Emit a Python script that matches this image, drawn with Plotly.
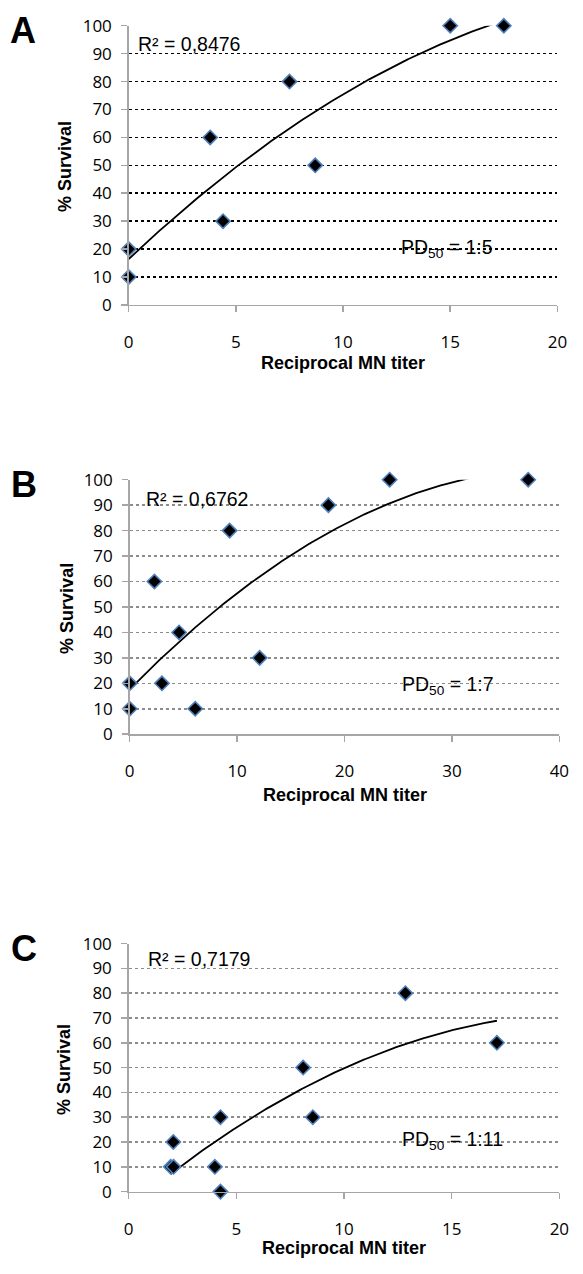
import numpy as np
import plotly.graph_objects as go

# ---------------- data ----------------
a_titer = [0, 0, 3.8, 4.4, 7.5, 8.7, 15.0, 17.5]
a_surv = [20, 10, 60, 30, 80, 50, 100, 100]

b_titer = [0, 0, 2.3, 3.0, 4.6, 6.1, 9.3, 12.1, 18.5, 24.2, 37.1]
b_surv = [20, 10, 60, 20, 40, 10, 80, 30, 90, 100, 100]

c_titer = [1.95, 2.08, 2.07, 4.0, 4.26, 4.26, 8.1, 8.55, 12.85, 17.1]
c_surv = [10, 10, 20, 10, 30, 0, 50, 30, 80, 60]

panel_letters = ["A", "B", "C"]
r2_labels = ["R² = 0,8476", "R² = 0,6762", "R² = 0,7179"]
pd50_labels = ["1:5", "1:7", "1:11"]
x_max = [20, 40, 20]
x_step = [5, 10, 5]
y_tick_vals = list(range(0, 101, 10))
x_title = "Reciprocal MN titer"
y_title = "% Survival"

# ---------------- layout geometry (pixels) ----------------
W, H = 583, 1274
panels = [
    dict(x=a_titer, y=a_surv, xl=127, xr=567, yt=14.0, yb=298.3, grid="#000000",
         letter=(18, 19), r2=(134, 32.5), pd=(404, 241), xt=357, yt_title=(61.5, 157)),
    dict(x=b_titer, y=b_surv, xl=128, xr=569, yt=476.3, yb=735.5, grid="#8c8c8c",
         letter=(19, 481), r2=(143, 496), pd=(405, 686), xt=797, yt_title=(63.5, 607)),
    dict(x=c_titer, y=c_surv, xl=127, xr=569, yt=948.7, yb=1201.3, grid="#8c8c8c",
         letter=(19, 954), r2=(145, 964), pd=(405, 1149), xt=1259, yt_title=(60, 1077)),
]


def px(xp):
    return xp / W


def py(yp):
    return 1 - yp / H


fig = go.Figure()
annotations = []
axis_col = "#a6a6a6"
tick_font = dict(family="Open Sans", size=17, color="#000000")

for i, p in enumerate(panels):
    n = "" if i == 0 else str(i + 1)
    xa, ya = "x" + n, "y" + n
    xs = np.array(p["x"], dtype=float)
    ys = np.array(p["y"], dtype=float)

    # polynomial (order 2) trendline, as in the source spreadsheet
    coef = np.polyfit(xs, ys, 2)
    tx = np.linspace(xs.min(), xs.max(), 300)
    ty = np.polyval(coef, tx)
    fig.add_trace(go.Scatter(x=tx, y=ty, mode="lines", xaxis=xa, yaxis=ya,
                             line=dict(color="#000000", width=1.8),
                             hoverinfo="skip", showlegend=False))
    fig.add_trace(go.Scatter(x=xs, y=ys, mode="markers", xaxis=xa, yaxis=ya,
                             cliponaxis=False, showlegend=False,
                             marker=dict(symbol="diamond", size=11, color="#000000",
                                         line=dict(color="#4f81bd", width=1.6))))

    fig.update_layout(**{
        ("xaxis" + n): dict(domain=[px(p["xl"]), px(p["xr"])], anchor=ya,
                            range=[0, x_max[i]], tickvals=list(range(0, x_max[i] + 1, x_step[i])),
                            showgrid=False, zeroline=False, showline=True,
                            linecolor=axis_col, linewidth=1.5, ticks="outside",
                            ticklen=6, tickwidth=1.5, tickcolor=axis_col,
                            tickfont=tick_font, ticklabelstandoff=15, fixedrange=True),
        ("yaxis" + n): dict(domain=[py(p["yb"]), py(p["yt"])], anchor=xa,
                            range=[0, 100], tickvals=y_tick_vals,
                            showgrid=True, gridcolor=p["grid"], griddash="dot", gridwidth=1.5,
                            zeroline=False, showline=True, linecolor=axis_col, linewidth=1.5,
                            ticks="outside", ticklen=6, tickwidth=1.5, tickcolor=axis_col,
                            tickfont=tick_font, ticklabelstandoff=6, fixedrange=True),
    })

    annotations += [
        dict(text="<b>" + panel_letters[i] + "</b>", x=px(p["letter"][0]), y=py(p["letter"][1]),
             xref="paper", yref="paper", xanchor="center", yanchor="middle", showarrow=False,
             font=dict(family="Liberation Sans", size=36, color="#000000")),
        dict(text=r2_labels[i], x=px(p["r2"][0]), y=py(p["r2"][1]),
             xref="paper", yref="paper", xanchor="left", yanchor="middle", showarrow=False,
             font=dict(family="Liberation Sans", size=19.5, color="#000000")),
        dict(text="PD<sub>50</sub> = " + pd50_labels[i], x=px(p["pd"][0]), y=py(p["pd"][1]),
             xref="paper", yref="paper", xanchor="left", yanchor="middle", showarrow=False,
             font=dict(family="Liberation Sans", size=19.5, color="#000000")),
        dict(text="<b>" + x_title + "</b>", x=px((p["xl"] + p["xr"]) / 2), y=py(p["xt"]),
             xref="paper", yref="paper", xanchor="center", yanchor="middle", showarrow=False,
             font=dict(family="Liberation Sans", size=18, color="#000000")),
        dict(text="<b>" + y_title + "</b>", x=px(p["yt_title"][0]), y=py(p["yt_title"][1]),
             xref="paper", yref="paper", xanchor="center", yanchor="middle", showarrow=False,
             textangle=-90, font=dict(family="Liberation Sans", size=18, color="#000000")),
    ]

fig.update_layout(width=W, height=H, autosize=False,
                  margin=dict(l=0, r=0, t=0, b=0, pad=0),
                  paper_bgcolor="#ffffff", plot_bgcolor="#ffffff",
                  annotations=annotations, showlegend=False)

fig.write_html("out.html", config={"displayModeBar": False, "staticPlot": True},
               post_script="document.body.style.margin='0';document.body.style.overflow='hidden';")
